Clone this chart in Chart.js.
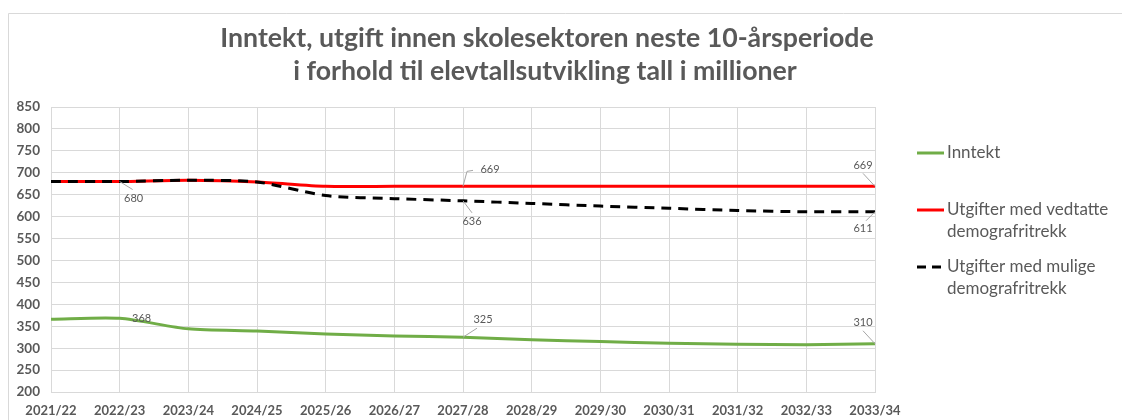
<!DOCTYPE html>
<html>
<head>
<meta charset="utf-8">
<script src="https://cdn.jsdelivr.net/npm/chart.js@4.4.1/dist/chart.umd.min.js"></script>
<style>
html,body{margin:0;padding:0;background:#fff;}
#wrap{position:relative;width:1122px;height:420px;}
canvas{display:block;}
</style>
</head>
<body>
<div id="wrap"><canvas id="c" width="1122" height="420"></canvas></div>
<script>
const titleLines = ["Inntekt, utgift innen skolesektoren neste 10-årsperiode", "i forhold til elevtallsutvikling tall i millioner"];
const categories = ["2021/22","2022/23","2023/24","2024/25","2025/26","2026/27","2027/28","2028/29","2029/30","2030/31","2031/32","2032/33","2033/34"];
const inntekt = [366, 368, 344, 339, 332, 328, 325, 319, 315, 311, 309, 308, 310];
const utgifterVedtatte = [680, 680, 683, 679, 669, 669, 669, 669, 669, 669, 669, 669, 669];
const utgifterMulige = [680, 680, 683, 679, 648, 641, 636, 630, 624, 619, 614, 611, 611];
const seriesNames = ["Inntekt", ["Utgifter med vedtatte", "demografritrekk"], ["Utgifter med mulige", "demografritrekk"]];
const yTicks = {min: 200, max: 850, step: 50};
const dataLabels = [
  {ds: 2, i: 1, pos: "belowRight"},
  {ds: 0, i: 1, pos: "right"},
  {ds: 1, i: 6, pos: "aboveElbow"},
  {ds: 2, i: 6, pos: "below"},
  {ds: 0, i: 6, pos: "aboveRight"},
  {ds: 1, i: 12, pos: "aboveLeft"},
  {ds: 2, i: 12, pos: "belowLeft"},
  {ds: 0, i: 12, pos: "aboveLeft"}
];

const FONT = "Lato, 'Open Sans', sans-serif";
const GREY = "#595959";

const decorPlugin = {
  id: "decor",
  beforeDraw(chart) {
    const ctx = chart.ctx;
    ctx.save();
    ctx.fillStyle = "#fff";
    ctx.fillRect(0, 0, chart.width, chart.height);
    ctx.strokeStyle = "#d9d9d9";
    ctx.lineWidth = 1;
    ctx.beginPath();
    ctx.moveTo(8.5, 420);
    ctx.lineTo(8.5, 13.5);
    ctx.lineTo(1122, 13.5);
    ctx.stroke();
    ctx.restore();
  },
  afterDraw(chart) {
    const ctx = chart.ctx;
    ctx.save();
    ctx.fillStyle = GREY;
    ctx.font = "bold 26.7px " + FONT;
    ctx.textAlign = "center";
    ctx.textBaseline = "middle";
    ctx.fillText(titleLines[0], 547, 38);
    ctx.fillText(titleLines[1], 545, 71);
    ctx.font = "17px " + FONT;
    ctx.textAlign = "left";
    const legY = [153, 210, 267];
    chart.data.datasets.forEach((ds, k) => {
      const y = legY[k];
      ctx.strokeStyle = ds.borderColor;
      ctx.lineWidth = 3;
      ctx.setLineDash(ds.borderDash && ds.borderDash.length ? [9, 6] : []);
      ctx.beginPath();
      ctx.moveTo(917, y);
      ctx.lineTo(944, y);
      ctx.stroke();
      ctx.setLineDash([]);
      ctx.fillStyle = GREY;
      const lines = Array.isArray(ds.label) ? ds.label : [ds.label];
      lines.forEach((t, j) => ctx.fillText(t, 947, y + j * 22));
    });
    ctx.font = "11px " + FONT;
    ctx.lineWidth = 1;
    ctx.strokeStyle = "#a6a6a6";
    dataLabels.forEach(l => {
      const meta = chart.getDatasetMeta(l.ds);
      const pt = meta.data[l.i];
      const v = chart.data.datasets[l.ds].data[l.i];
      const x = pt.x, y = pt.y;
      ctx.fillStyle = GREY;
      let tx, ty, path = null;
      switch (l.pos) {
        case "belowRight": tx = x + 14; ty = y + 17; path = [[x, y], [x + 13, y + 8]]; break;
        case "right": tx = x + 22; ty = y; break;
        case "aboveElbow": tx = x + 27; ty = y - 17; path = [[x, y], [x + 4, y - 15], [x + 10, y - 16]]; break;
        case "below": tx = x + 9; ty = y + 21; path = [[x, y], [x + 9, y + 12]]; break;
        case "aboveRight": tx = x + 20; ty = y - 18; path = [[x, y], [x + 14, y - 9]]; break;
        case "aboveLeft": tx = x - 12; ty = y - 21; path = [[x, y], [x - 12, y - 13]]; break;
        case "belowLeft": tx = x - 12; ty = y + 17; path = [[x, y], [x - 9, y + 9]]; break;
      }
      if (path) {
        ctx.beginPath();
        ctx.moveTo(path[0][0], path[0][1]);
        for (let k = 1; k < path.length; k++) ctx.lineTo(path[k][0], path[k][1]);
        ctx.stroke();
      }
      ctx.textAlign = "center";
      ctx.textBaseline = "middle";
      ctx.fillText(String(v), tx, ty);
    });
    ctx.restore();
  }
};

new Chart(document.getElementById("c"), {
  type: "line",
  data: {
    labels: categories,
    datasets: [
      {label: seriesNames[0], data: inntekt, borderColor: "#70ad47", borderWidth: 3, pointRadius: 0, tension: 0.25, borderDash: [], order: 2},
      {label: seriesNames[1], data: utgifterVedtatte, borderColor: "#ff0000", borderWidth: 3, pointRadius: 0, tension: 0.25, borderDash: [], order: 1},
      {label: seriesNames[2], data: utgifterMulige, borderColor: "#000000", borderWidth: 3, pointRadius: 0, tension: 0.25, borderDash: [10, 7], order: 0}
    ]
  },
  options: {
    responsive: false,
    animation: false,
    layout: {padding: {top: 107, right: 247, left: 0, bottom: 0}},
    plugins: {legend: {display: false}, title: {display: false}, tooltip: {enabled: false}},
    scales: {
      x: {
        offset: false,
        grid: {color: "#d9d9d9", drawTicks: false, lineWidth: 1},
        border: {color: "#d9d9d9"},
        ticks: {color: GREY, font: {family: FONT, size: 13, weight: 700}, padding: 11, maxRotation: 0, autoSkip: false},
        afterFit(s) { s.height = 28; }
      },
      y: {
        min: yTicks.min, max: yTicks.max,
        grid: {color: "#d9d9d9", drawTicks: false},
        border: {display: false},
        ticks: {stepSize: yTicks.step, color: GREY, font: {family: FONT, size: 13.5, weight: 700}, padding: 11},
        afterFit(s) { s.width = 51; }
      }
    }
  },
  plugins: [decorPlugin]
});
</script>
</body>
</html>
